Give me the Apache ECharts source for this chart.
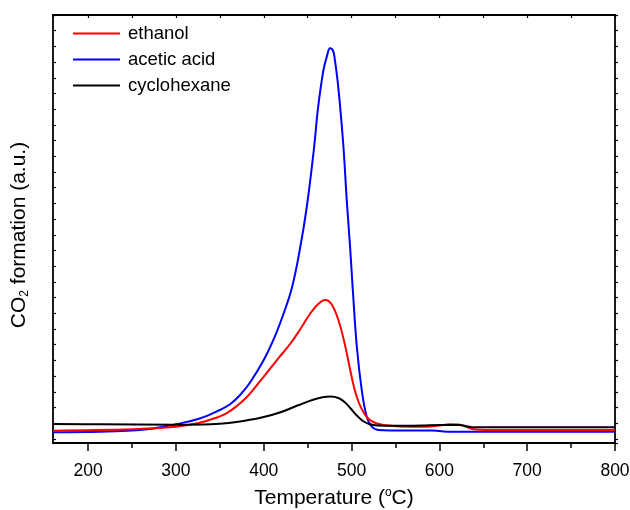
<!DOCTYPE html>
<html><head><meta charset="utf-8">
<script src="https://cdn.jsdelivr.net/npm/echarts@6/dist/echarts.min.js"></script>
<style>html,body{margin:0;padding:0;background:#fff}#c{width:630px;height:510px}</style>
</head><body><div id="c"></div>
<script>
// Temperature (°C) and CO2 signal (a.u.)
const ethanolT = [160, 251, 280, 300, 327, 345, 358, 370, 381, 390, 400, 415, 430, 441, 453, 462, 470, 477, 485, 492, 498, 503, 508, 513, 519, 526, 535, 545, 555, 586, 600, 612, 622, 630, 639, 653, 800];
const ethanolY = [2.87, 3.2, 3.5, 3.81, 4.74, 5.84, 7.0, 8.76, 10.82, 12.97, 15.49, 19.39, 23.13, 26.4, 30.26, 32.48, 33.41, 32.48, 28.74, 23.36, 17.52, 12.85, 9.58, 7.36, 5.72, 4.79, 4.25, 4.02, 3.86, 3.81, 4.09, 4.37, 4.32, 3.86, 3.2, 3.04, 3.04];
const aceticT = [160, 213, 250, 267, 280, 290, 300, 327, 350, 362, 373, 384, 400, 411, 422, 432, 441, 449, 457, 462, 468, 472, 475.5, 479, 481, 484, 487, 491, 494.5, 498.3, 501.3, 506, 511.6, 517.3, 523, 530.5, 560, 593, 605, 615, 800];
const aceticY = [2.5, 2.64, 2.92, 3.2, 3.62, 3.97, 4.37, 5.72, 7.71, 9.11, 11.21, 14.02, 19.39, 24.07, 29.91, 36.21, 45.09, 55.14, 68.46, 78.57, 87.15, 90.42, 92.22, 91.59, 89.49, 84.81, 78.57, 68.46, 56.78, 45.86, 36.14, 22.5, 12.38, 6.14, 3.81, 3.04, 2.92, 2.92, 2.69, 2.64, 2.64];
const cycloT = [160, 213, 300, 340, 360, 380, 400, 420, 440, 457, 467, 476, 485, 492, 499, 506, 513, 520, 530, 545, 580, 600, 623, 632, 640, 800];
const cycloY = [4.44, 4.37, 4.28, 4.39, 4.67, 5.26, 6.07, 7.24, 8.88, 10.16, 10.68, 10.86, 10.51, 9.58, 8.06, 6.43, 5.14, 4.44, 4.09, 4.02, 4.09, 4.21, 4.21, 3.86, 3.67, 3.67];
const seriesNames = ['ethanol', 'acetic acid', 'cyclohexane'];
const xMajor = [200, 300, 400, 500, 600, 700, 800];
const xMinor = [250, 350, 450, 550, 650, 750];
const xTop = [200, 250, 300, 350, 400, 450, 500, 550, 600, 650, 700, 750, 800];

const pairs = (t, y) => t.map((v, i) => [v, y[i]]);
const FONT = 'Liberation Sans, Arial, sans-serif';
const chart = echarts.init(document.getElementById('c'), null, {renderer: 'canvas'});
const tickAxisBase = {
  type: 'value', min: 0, max: 27.26, interval: 1, inverse: true,
  axisLine: {show: true, lineStyle: {color: '#000', width: 1.8}},
  axisLabel: {show: false}, splitLine: {show: false}
};
const lineSeries = (name, t, y, color, z) => ({
  name: name, type: 'line', data: pairs(t, y), symbol: 'none', smooth: 0.4,
  lineStyle: {color: color, width: 2}, itemStyle: {color: color}, z: z
});
chart.setOption({
  animation: false,
  backgroundColor: '#fff',
  grid: {left: 53, right: 15, top: 15, bottom: 67, containLabel: false, outerBoundsMode: 'none'},
  legend: {
    orient: 'vertical', left: 73, top: 24, padding: 0, itemWidth: 47, itemHeight: 2, itemGap: 7,
    icon: 'rect',
    data: seriesNames,
    textStyle: {fontFamily: FONT, fontSize: 18.5, lineHeight: 14, color: '#000', padding: [0, 0, 0, 3]}
  },
  xAxis: [
    {type: 'value', min: 160, max: 800, position: 'bottom',
     axisLine: {show: true, onZero: false, lineStyle: {color: '#000', width: 1.8}},
     axisTick: {show: true, inside: false, length: 8, customValues: xMajor, lineStyle: {color: '#000', width: 1.5}},
     axisLabel: {show: true, customValues: xMajor, margin: 19, fontFamily: FONT, fontSize: 17.5, color: '#000'},
     splitLine: {show: false},
     name: '{n|Temperature (}{s|o}{n|C)}', nameLocation: 'middle', nameGap: 44,
     nameTextStyle: {rich: {n: {fontFamily: FONT, fontSize: 21, color: '#000'}, s: {fontFamily: FONT, fontSize: 12, color: '#000', verticalAlign: 'bottom', padding: [0, 0, 11, 0]}}}
    },
    {type: 'value', min: 160, max: 800, position: 'bottom',
     axisLine: {show: false, onZero: false},
     axisTick: {show: true, inside: false, length: 5, customValues: xMinor, lineStyle: {color: '#000', width: 1.5}},
     axisLabel: {show: false}, splitLine: {show: false}
    },
    {type: 'value', min: 160, max: 800, position: 'top',
     axisLine: {show: true, onZero: false, lineStyle: {color: '#000', width: 1.8}},
     axisTick: {show: true, inside: true, length: 3, customValues: xTop, lineStyle: {color: '#000', width: 1.2}},
     axisLabel: {show: false}, splitLine: {show: false}
    }
  ],
  yAxis: [
    {type: 'value', min: 0, max: 100, show: false, splitLine: {show: false}},
    Object.assign({}, tickAxisBase, {position: 'left',
      axisTick: {show: true, inside: true, length: 3, lineStyle: {color: '#000', width: 1.2}},
      name: '{n|CO}{b|2}{n| formation (a.u.)}', nameLocation: 'middle', nameGap: 22, nameRotate: 90,
      nameTextStyle: {padding: [0, 12, 0, 0], rich: {n: {fontFamily: FONT, fontSize: 21, color: '#000'}, b: {fontFamily: FONT, fontSize: 12, color: '#000', verticalAlign: 'top', padding: [12, 0, 0, 0]}}}
    }),
    Object.assign({}, tickAxisBase, {position: 'right',
      axisTick: {show: true, inside: false, length: 3, lineStyle: {color: '#000', width: 1.2}}
    })
  ],
  series: [
    lineSeries(seriesNames[0], ethanolT, ethanolY, '#ff0000', 3),
    lineSeries(seriesNames[1], aceticT, aceticY, '#0000ff', 2),
    lineSeries(seriesNames[2], cycloT, cycloY, '#000000', 4)
  ]
});
</script></body></html>
